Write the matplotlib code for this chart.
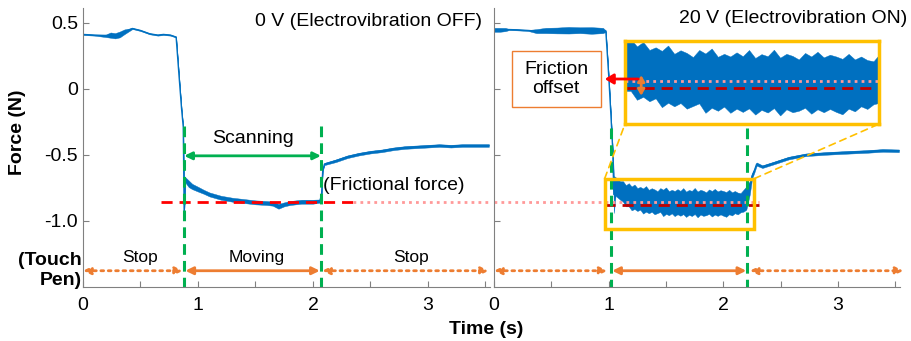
import matplotlib
matplotlib.use('Agg')
import matplotlib.pyplot as plt
from matplotlib.patches import Rectangle, ConnectionPatch, FancyArrowPatch

plt.rcParams['font.family'] = ['Liberation Sans', 'DejaVu Sans']

# ---- data ----
# 0 V (electrovibration OFF)
t_off = [0, 0.1, 0.2, 0.24, 0.28, 0.32, 0.36, 0.43, 0.5, 0.58, 0.65, 0.70, 0.76, 0.81,
         0.835, 0.858, 0.872, 0.88, 0.89, 0.92, 0.95, 1.0, 1.05, 1.1, 1.2, 1.3, 1.4, 1.5,
         1.6, 1.65, 1.7, 1.75, 1.8, 1.9, 2.0, 2.06, 2.075, 2.085, 2.1, 2.2, 2.3, 2.4,
         2.5, 2.6, 2.7, 2.8, 2.9, 3.0, 3.1, 3.2, 3.3, 3.4, 3.53]
f_off = [0.41, 0.405, 0.40, 0.405, 0.40, 0.41, 0.43, 0.455, 0.44, 0.415, 0.405, 0.41, 0.405, 0.39,
         0.10, -0.16, -0.29, -0.94, -0.69, -0.72, -0.74, -0.76, -0.78, -0.80, -0.825, -0.84, -0.85, -0.86,
         -0.865, -0.87, -0.89, -0.875, -0.865, -0.855, -0.855, -0.85, -0.80, -0.62, -0.57, -0.545, -0.515, -0.495,
         -0.48, -0.47, -0.455, -0.445, -0.44, -0.435, -0.43, -0.435, -0.43, -0.43, -0.43]
noise_off = [0.004, 0.004, 0.01, 0.02, 0.02, 0.022, 0.018, 0.004, 0.004, 0.004, 0.004, 0.004, 0.004, 0.004,
             0.002, 0.002, 0.002, 0.002, 0.02, 0.025, 0.02, 0.018, 0.015, 0.015, 0.015, 0.015, 0.015, 0.015,
             0.015, 0.015, 0.018, 0.015, 0.015, 0.015, 0.015, 0.012, 0.003, 0.003, 0.008, 0.01, 0.01, 0.01,
             0.01, 0.01, 0.01, 0.01, 0.01, 0.01, 0.01, 0.01, 0.01, 0.01, 0.01]

# 20 V (electrovibration ON): centre of the trace and the noise above / below it
t_on = [0, 0.05, 0.1, 0.13, 0.2, 0.3, 0.37, 0.45, 0.55, 0.65, 0.75, 0.85, 0.95, 0.975,
        1.0, 1.02, 1.035, 1.045, 1.06,
        1.1, 1.125, 1.15, 1.175, 1.2, 1.225, 1.25, 1.275, 1.3, 1.325, 1.35, 1.375, 1.4, 1.425, 1.45,
        1.475, 1.5, 1.525, 1.55, 1.575, 1.6, 1.625, 1.65, 1.675, 1.7, 1.725, 1.75, 1.775, 1.8, 1.825,
        1.85, 1.875, 1.9, 1.925, 1.95, 1.975, 2.0, 2.025, 2.05, 2.075, 2.1, 2.125, 2.15, 2.175, 2.2,
        2.23, 2.25, 2.27, 2.29, 2.34, 2.43, 2.57, 2.72, 2.89, 3.0, 3.12, 3.25, 3.39, 3.53]
f_on = [0.445, 0.445, 0.447, 0.447, 0.445, 0.44, 0.435, 0.44, 0.44, 0.442, 0.442, 0.44, 0.44, 0.435,
        0.10, -0.21, -0.46, -0.80, -0.74,
        -0.765, -0.785, -0.80, -0.81, -0.82, -0.825, -0.83, -0.835, -0.84, -0.842, -0.845, -0.848, -0.85,
        -0.851, -0.852, -0.854, -0.855, -0.857, -0.858, -0.859, -0.86, -0.861, -0.862, -0.862, -0.862,
        -0.863, -0.863, -0.863, -0.862, -0.862, -0.862, -0.862, -0.862, -0.862, -0.862, -0.863, -0.864,
        -0.864, -0.865, -0.864, -0.862, -0.861, -0.86, -0.85, -0.83,
        -0.75, -0.66, -0.62, -0.57, -0.59, -0.565, -0.525, -0.50, -0.49, -0.485, -0.48, -0.475, -0.467, -0.47]
noise_on_hi = [0.015, 0.015, 0.012, 0.004, 0.004, 0.004, 0.015, 0.02, 0.022, 0.025, 0.022, 0.025, 0.02, 0.005,
               0.003, 0.003, 0.003, 0.14, 0.07,
               0.065, 0.085, 0.07, 0.095, 0.08, 0.1, 0.078, 0.092, 0.085, 0.105, 0.08, 0.095, 0.088, 0.075,
               0.1, 0.09, 0.108, 0.082, 0.093, 0.085, 0.1, 0.088, 0.11, 0.083, 0.096, 0.09, 0.112, 0.085,
               0.097, 0.09, 0.078, 0.1, 0.088, 0.104, 0.085, 0.095, 0.09, 0.082, 0.1, 0.08, 0.088, 0.075,
               0.07, 0.085, 0.09,
               0.05, 0.02, 0.015, 0.012, 0.01, 0.01, 0.01, 0.01, 0.01, 0.01, 0.01, 0.01, 0.01, 0.01]
noise_on_lo = [0.015, 0.015, 0.012, 0.004, 0.004, 0.004, 0.015, 0.02, 0.022, 0.025, 0.022, 0.025, 0.02, 0.005,
               0.003, 0.003, 0.003, 0.14, 0.07,
               0.075, 0.07, 0.09, 0.08, 0.1, 0.085, 0.095, 0.08, 0.105, 0.088, 0.097, 0.083, 0.1, 0.09,
               0.08, 0.11, 0.092, 0.1, 0.085, 0.105, 0.09, 0.1, 0.087, 0.108, 0.092, 0.1, 0.085, 0.11,
               0.09, 0.1, 0.095, 0.085, 0.105, 0.09, 0.1, 0.088, 0.097, 0.105, 0.085, 0.095, 0.08, 0.09,
               0.075, 0.08, 0.085,
               0.05, 0.02, 0.015, 0.012, 0.01, 0.01, 0.01, 0.01, 0.01, 0.01, 0.01, 0.01, 0.01, 0.01]

# phase boundaries (s) and friction levels (N)
move_off = (0.88, 2.07)
move_on = (1.02, 2.21)
fric_off = -0.855
fric_on = -0.88

blue = '#0070C0'
green = '#00B050'
orange = '#ED7D31'
yellow = '#FFC000'
gray = '#808080'

fig = plt.figure(figsize=(9.12, 3.41), dpi=100)
ax1 = fig.add_axes([83/912, 1-287/341, 407/912, 279/341])
ax2 = fig.add_axes([494/912, 1-287/341, 406/912, 279/341])


def style(ax, labels=True):
    ax.set_xlim(0, 3.54)
    ax.set_ylim(-1.5, 0.61)
    for s in ['top', 'right']:
        ax.spines[s].set_visible(False)
    for s in ['left', 'bottom']:
        ax.spines[s].set_color(gray)
    ax.set_xticks([0, 0.5, 1, 1.5, 2, 2.5, 3, 3.5])
    ax.set_xticklabels(['0', '', '1', '', '2', '', '3', ''])
    ax.set_yticks([-1.0, -0.5, 0, 0.5])
    if labels:
        ax.set_yticklabels(['-1.0', '-0.5', '0', '0.5'])
    else:
        ax.set_yticklabels([])
    ax.tick_params(direction='in', color=gray, length=4, labelsize=14)
    ax.tick_params(axis='x', pad=7)


def signal(ax, t, f, n_hi, n_lo):
    lo = [a - b for a, b in zip(f, n_lo)]
    hi = [a + b for a, b in zip(f, n_hi)]
    ax.fill_between(t, lo, hi, color=blue, lw=0.3)
    ax.plot(t, f, color=blue, lw=1.0)


def span(ax, x0, x1, y, color, ls):
    ax.annotate('', xy=(x1, y), xytext=(x0, y),
                arrowprops=dict(arrowstyle='<|-|>,head_length=0.45,head_width=0.22',
                                color=color, lw=2, linestyle=ls, shrinkA=0, shrinkB=0),
                annotation_clip=False)


style(ax1)
style(ax2, labels=False)
signal(ax1, t_off, f_off, noise_off, noise_off)
signal(ax2, t_on, f_on, noise_on_hi, noise_on_lo)

# left panel annotations
ax1.plot([0.68, 2.35], [fric_off, fric_off], color='#FF0000', lw=2, ls=(0, (4, 2.5)))
ax1.plot([2.35, 3.54], [fric_off, fric_off], color='#FF9999', lw=2, ls=(0, (1, 1.5)))
for x in move_off:
    ax1.plot([x, x], [-0.28, -1.5], color=green, lw=2.2, ls=(0, (3.5, 2)), clip_on=False)
span(ax1, move_off[0], move_off[1], -0.508, green, '-')
ax1.text(sum(move_off)/2, -0.38, 'Scanning', ha='center', va='center', fontsize=14)
ax1.text(2.09, -0.73, '(Frictional force)', ha='left', va='center', fontsize=14)
ax1.text(0.98, 0.51, '0 V (Electrovibration OFF)', transform=ax1.get_yaxis_transform(),
         ha='right', va='center', fontsize=14)

span(ax1, 0.0, 0.87, -1.377, orange, ':')
span(ax1, 0.89, 2.06, -1.377, orange, '-')
span(ax1, 2.08, 3.53, -1.377, orange, ':')
ax1.text(0.5, -1.28, 'Stop', ha='center', va='center', fontsize=12.5)
ax1.text(1.51, -1.28, 'Moving', ha='center', va='center', fontsize=12.5)
ax1.text(2.85, -1.28, 'Stop', ha='center', va='center', fontsize=12.5)

# right panel annotations
ax2.plot([0, 2.31], [fric_off, fric_off], color='#FF9999', lw=2, ls=(0, (1, 1.5)))
ax2.plot([0.96, 2.31], [fric_on, fric_on], color='#C00000', lw=2, ls=(0, (4, 2.5)))
for x in move_on:
    ax2.plot([x, x], [-0.30, -1.5], color=green, lw=2.2, ls=(0, (3.5, 2)), clip_on=False)
ax2.add_patch(Rectangle((0.965, -1.06), 2.27 - 0.965, 0.38, fill=False,
                        edgecolor=yellow, lw=2.5, zorder=5))
ax2.text(1.017, 0.528, '20 V (Electrovibration ON)', transform=ax2.get_yaxis_transform(),
         ha='right', va='center', fontsize=14)
span(ax2, 0.0, 0.99, -1.377, orange, ':')
span(ax2, 1.03, 2.2, -1.377, orange, '-')
span(ax2, 2.23, 3.57, -1.377, orange, ':')

# zoomed inset
axins = fig.add_axes([625/912, 1-124/341, 254/912, 83/341])
signal(axins, t_on, f_on, noise_on_hi, noise_on_lo)
axins.set_xlim(1.15, 2.17)
axins.set_ylim(-1.0, -0.72)
axins.plot([1.15, 2.17], [fric_off, fric_off], color='#FF9999', lw=2, ls=(0, (1, 1.5)))
axins.plot([1.15, 2.17], [fric_on, fric_on], color='#C00000', lw=2, ls=(0, (4, 2.5)))
axins.annotate('', xy=(1.215, -0.835), xytext=(1.215, -0.905),
               arrowprops=dict(arrowstyle='<|-|>,head_length=0.35,head_width=0.2',
                               color=orange, lw=2, shrinkA=0, shrinkB=0))
axins.set_xticks([])
axins.set_yticks([])
for s in axins.spines.values():
    s.set_color(yellow)
    s.set_linewidth(2.5)

for xa, xb in [((0.965, -0.68), (0, 0)), ((2.27, -0.68), (1, 0))]:
    con = ConnectionPatch(xyA=xa, coordsA=ax2.transData, xyB=xb, coordsB=axins.transAxes,
                          color=yellow, lw=1.2, ls=(0, (4, 3)))
    fig.add_artist(con)

# friction offset box and red arrow
fig.add_artist(Rectangle((512/912, 1-107/341), 89/912, 56/341, transform=fig.transFigure,
                         fill=False, edgecolor=orange, lw=1))
fig.text(556/912, 1-79/341, 'Friction\noffset', ha='center', va='center', fontsize=14,
         linespacing=1.2)
fig.add_artist(FancyArrowPatch((641/912, 1-79/341), (602/912, 1-79/341),
                               transform=fig.transFigure, color='#FF0000', lw=2,
                               arrowstyle='-|>,head_length=5,head_width=3'))

# axis labels
fig.text(18/912, 1-132/341, 'Force (N)', rotation=90, ha='center', va='center',
         fontsize=14, fontweight='bold')
fig.text(486/912, 1-329/341, 'Time (s)', ha='center', va='center', fontsize=14, fontweight='bold')
fig.text(82/912, 1-270.5/341, '(Touch\nPen)', ha='right', va='center', fontsize=14,
         fontweight='bold', linespacing=1.3)

fig.savefig('out.png', dpi=100)
